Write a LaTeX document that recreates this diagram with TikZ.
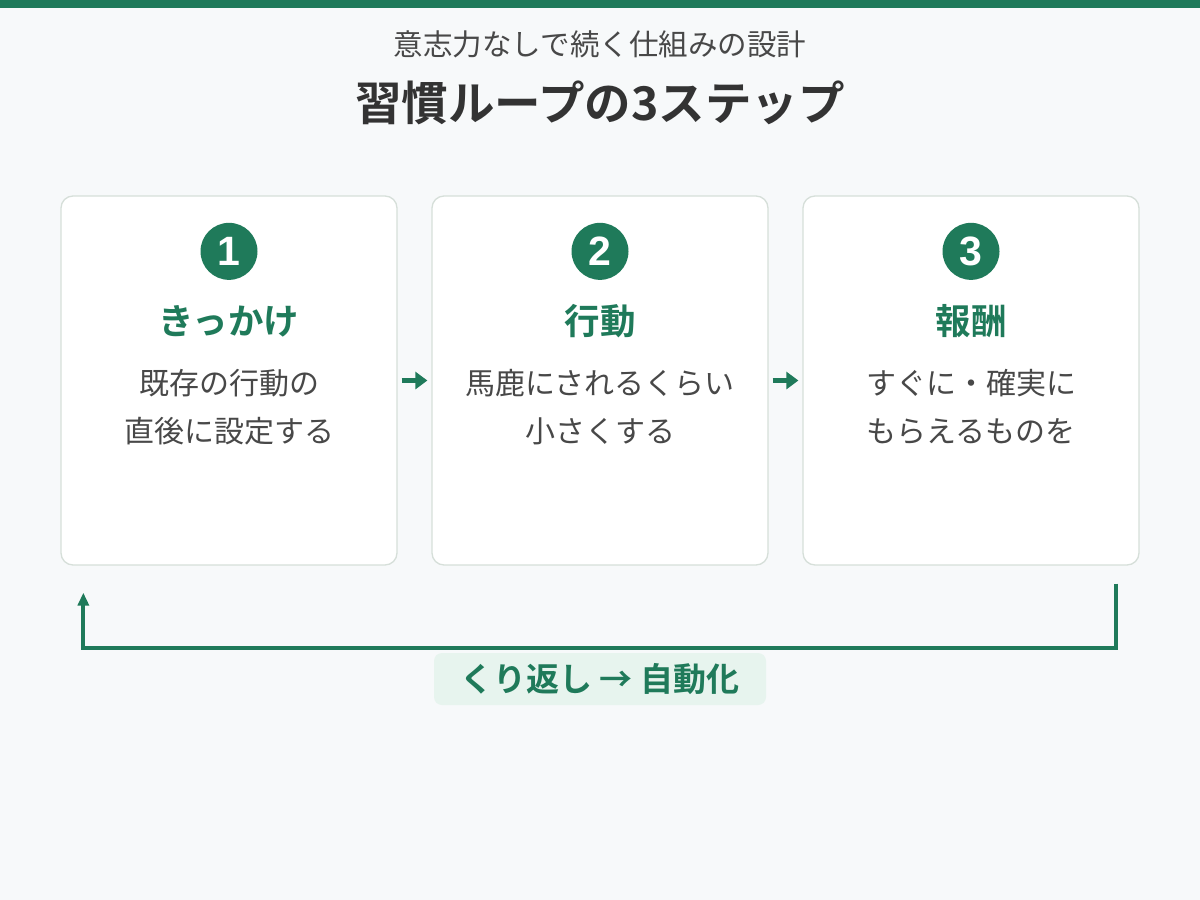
\documentclass[tikz,border=0pt]{standalone}
\usepackage{fontspec}
\setmainfont{Noto Sans CJK JP}[BoldFont={Noto Sans CJK JP Bold}]
\newfontfamily\digitfont{Liberation Sans}
\usepackage{xcolor}
\usepackage{tikz}
\usetikzlibrary{calc,positioning,arrows.meta}
\definecolor{bg}{HTML}{F7F9FA}
\definecolor{green}{HTML}{1F7A5A}
\definecolor{cardline}{HTML}{D6DFD9}
\definecolor{title}{HTML}{333333}
\definecolor{text}{HTML}{484848}
\definecolor{tagbg}{HTML}{E7F4EE}
\tikzset{
  card/.style={draw=cardline, fill=white, line width=1.3pt, rounded corners=12pt,
    minimum width=336pt, minimum height=369pt, inner sep=0pt},
  num/.style={circle, fill=green, text=white, minimum size=57pt, inner sep=0pt,
    font=\fontsize{41}{41}\digitfont\bfseries\selectfont},
  head/.style={text=green, font=\fontsize{35.5}{40}\bfseries\selectfont},
  body/.style={text=text, align=center, font=\fontsize{30}{48}\selectfont},
  next/.style={draw=green, line width=5pt, -{Triangle[length=12pt,width=17pt]},
    shorten <=4pt, shorten >=4pt},
  back/.style={draw=green, line width=3.8pt, -{Triangle[length=13pt,width=11pt]}},
  tag/.style={fill=tagbg, rounded corners=8pt, minimum width=332pt, minimum height=52pt,
    text=green, font=\fontsize{33}{36}\bfseries\selectfont},
}
\begin{document}
\begin{tikzpicture}[x=1pt,y=-1pt]
  % background and top bar
  \fill[bg] (0,0) rectangle (1200,900);
  \fill[green] (0,0) rectangle (1200,8);
  \useasboundingbox (0,0) rectangle (1200,900);

  \node[text=text, font=\fontsize{29.5}{32}\selectfont] (sub) at (600,44) {意志力なしで続く仕組みの設計};
  \node[text=title, font=\fontsize{46.5}{50}\bfseries\selectfont] (ttl) at (600,103) {習慣ループの3ステップ};

  % cards
  \node[card] (c1) at (229,380.5) {};
  \node[card] (c2) at (600,380.5) {};
  \node[card] (c3) at (971,380.5) {};

  \node[num] (n1) at ([yshift=-56pt]c1.north) {1};
  \node[num] (n2) at ([yshift=-56pt]c2.north) {2};
  \node[num] (n3) at ([yshift=-56pt]c3.north) {3};

  \node[head] (h1) at ([yshift=-126pt]c1.north) {きっかけ};
  \node[head] (h2) at ([yshift=-126pt]c2.north) {行動};
  \node[head] (h3) at ([yshift=-126pt]c3.north) {報酬};

  \node[body] (b1) at ([yshift=-212pt]c1.north) {既存の行動の\\直後に設定する};
  \node[body] (b2) at ([yshift=-212pt]c2.north) {馬鹿にされるくらい\\小さくする};
  \node[body] (b3) at ([yshift=-212pt]c3.north) {すぐに・確実に\\もらえるものを};

  \draw[next] (c1.east) -- (c2.west);
  \draw[next] (c2.east) -- (c3.west);

  % loop back
  \coordinate (ls) at ([xshift=-24pt,yshift=-18pt]c3.south east);
  \coordinate (le) at ([xshift=23pt,yshift=-27pt]c1.south west);
  \draw[back] (ls) -- ++(0,64) -| (le);

  \node[tag] (rep) at (600,679) {くり返し → 自動化};
\end{tikzpicture}
\end{document}
